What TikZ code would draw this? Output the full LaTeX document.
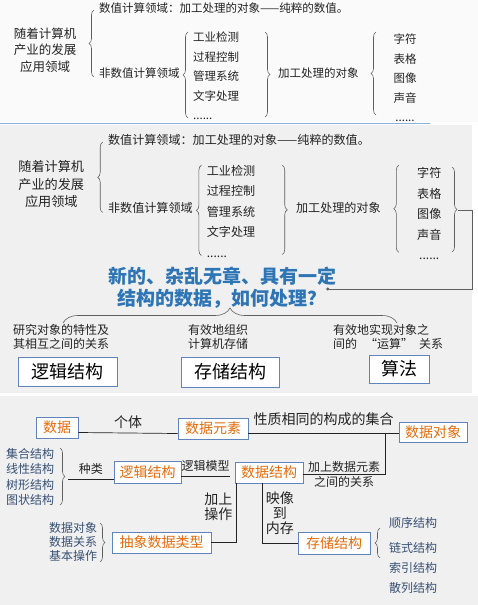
\documentclass[tikz,border=0pt]{standalone}
\usepackage{fontspec}
\newfontfamily\cjk{Noto Sans CJK SC}
\usepackage{tikz}
\usetikzlibrary{positioning,decorations.pathreplacing,arrows.meta}
\usepackage{xcolor}

\definecolor{ink}{RGB}{35,35,35}
\definecolor{topbg}{RGB}{250,250,250}
\definecolor{graybg}{RGB}{240,240,240}
\definecolor{rulecol}{RGB}{141,176,216}
\definecolor{bracegray}{RGB}{95,95,95}
\definecolor{headblue}{RGB}{46,117,182}
\definecolor{boxblue}{RGB}{96,133,190}
\definecolor{orangetxt}{RGB}{228,108,10}
\definecolor{listblue}{RGB}{55,80,115}

\tikzset{
  txt/.style={inner sep=0pt, text=ink, font=\cjk\fontsize{11.5}{19.5}\selectfont},
  ttl/.style={txt, align=center, font=\cjk\fontsize{12.5}{16.5}\selectfont},
  small/.style={txt, align=center, font=\cjk\fontsize{12}{14}\selectfont},
  lbl/.style={txt, align=center, font=\cjk\fontsize{14}{15}\selectfont},
  lbls/.style={txt, align=center, font=\cjk\fontsize{12}{15}\selectfont},
  blist/.style={txt, text=listblue, align=left, font=\cjk\fontsize{12}{15.5}\selectfont},
  brc/.style={decorate, decoration={brace, amplitude=5pt}, draw=bracegray, line width=0.6pt},
  conn/.style={draw=ink, line width=0.7pt},
  bigbox/.style={draw=boxblue, fill=white, line width=0.8pt, inner sep=0pt, text=black,
    font=\cjk\fontsize{18}{18}\selectfont},
  obox/.style={draw=boxblue, fill=white, line width=0.8pt, inner sep=0pt, text=orangetxt,
    font=\cjk\fontsize{14}{14}\selectfont, minimum height=21pt},
}

% field tree, drawn twice
\newcommand{\fieldtree}[1]{%
\node[ttl] (#1title) at (45,50) {随着计算机\\产业的发展\\应用领域};
\draw[brc] (94,77) -- (94,10);
\node[txt, anchor=west] (#1num) at (99,8) {数值计算领域：加工处理的对象——纯粹的数值。};
\node[txt, anchor=west] (#1non) at (99,73) {非数值计算领域};
\draw[brc] (188,118) -- (188,32);
\node[txt, align=left, anchor=west] (#1use) at (193,76) {工业检测\\过程控制\\管理系统\\文字处理\\......};
\draw[brc] (265,32) -- (265,117);
\node[txt, anchor=west] (#1obj) at (278,73) {加工处理的对象};
\draw[brc] (376,115) -- (376,32);
\node[txt, align=center] (#1kind) at (405,78) {字符\\表格\\图像\\声音\\......};
}

\begin{document}
\begin{tikzpicture}[x=1pt,y=-1pt]
\useasboundingbox (0,0) rectangle (478,605);
\fill[white] (0,0) rectangle (478,605);
\fill[topbg] (0,0) rectangle (478,122);
\fill[graybg] (0,125) rectangle (472,393);
\fill[graybg] (0,396) rectangle (478,605);
\draw[rulecol, line width=0.8pt] (0,123) -- (430,123);

% top part
\fieldtree{a}

% second part
\begin{scope}[shift={(4,131.6)}, scale=1.05, transform shape]
\fieldtree{b}
\end{scope}
\draw[brc] (452,167) -- (452,252);
\coordinate (btip) at (458,210);
\node[txt, align=center, text=headblue, font=\cjk\bfseries\fontsize{19}{22}\selectfont] (q) at (222,288)
  {新的、杂乱无章、具有一定\\结构的数据，如何处理？};
\draw[conn, draw=bracegray, -{Circle[length=3pt]}] (btip) -- ++(14,0) |- ([xshift=-10pt, yshift=-1pt]q.east);
\draw[brc, decoration={amplitude=15pt}] (63,323) -- (397,323);
\node[small] (r1) at (61,337) {研究对象的特性及\\其相互之间的关系};
\node[small] (r2) at (218,337) {有效地组织\\计算机存储};
\node[small, align=left, anchor=west] (r3) at (333,337) {有效地实现对象之\\间的\hspace{8pt}“运算”\hspace{6pt}关系};
\node[bigbox, minimum width=99pt, minimum height=29pt] (lb) at (67.5,371.5) {逻辑结构};
\node[bigbox, minimum width=98pt, minimum height=30pt] (sb) at (230,372) {存储结构};
\node[bigbox, minimum width=60pt, minimum height=28pt] (ab) at (399,369) {算法};

% third part
\node[obox, minimum width=42pt] (d1) at (57,427.5) {数据};
\node[obox, minimum width=70pt] (d2) at (213,428.5) {数据元素};
\node[obox, minimum width=68pt, minimum height=20pt] (d3) at (433,432) {数据对象};
\draw[conn] ([yshift=-5pt]d1.east) -- node[lbl, above=4pt] (lgt) {个体} ([yshift=-5pt]d2.west);
\draw[conn] ([yshift=-4.5pt]d2.east) -- node[lbl, above=7pt] (lset) {性质相同的构成的集合} ([yshift=-1pt]d3.west);

\node[blist] (kinds) at (30,477) {集合结构\\线性结构\\树形结构\\图状结构};
\draw[brc] (60,448) -- (60,505);
\node[obox, minimum width=67pt, minimum height=22pt] (ls) at (147.5,472) {逻辑结构};
\node[obox, minimum width=68pt] (ds) at (269,472.5) {数据结构};
\coordinate (ktip) at (68,479);
\draw[conn] (ktip) -- node[lbls, above=4pt] (lkind) {种类} ([yshift=-7pt]ls.west);
\draw[conn] ([yshift=-4pt]ls.east) -- node[lbls, above=4pt] (lmod) {逻辑模型} ([xshift=-5pt, yshift=-3.5pt]ds.west);
\coordinate (j) at (385,433);
\draw[conn] (j) |- ([yshift=-1.5pt]ds.east) node[lbls, pos=0.75] (lrel) {加上数据元素\\之间的关系};

\node[obox, minimum width=99pt] (adt) at (161.5,542.5) {抽象数据类型};
\node[obox, minimum width=72pt, minimum height=22pt] (ss) at (334,543) {存储结构};
\draw[conn] ([xshift=2pt]ds.south west) |- (adt.east) node[lbl, pos=0.2, left=4pt] (lop) {加上\\操作};
\draw[conn] ([xshift=28pt]ds.south west) |- (ss.west) node[lbl, pos=0.25, right=3pt] (lmap) {映像\\到\\内存};

\node[blist, font=\cjk\fontsize{12}{14}\selectfont] (adtl) at (73,542) {数据对象\\数据关系\\基本操作};
\draw[brc] (100,523) -- (100,562);
\draw[brc] (380,558) -- (380,528);
\node[blist, anchor=west] (st1) at (389,523) {顺序结构};
\node[blist, anchor=west] (st2) at (389,548) {链式结构};
\node[blist, anchor=west] (st3) at (389,568) {索引结构};
\node[blist, anchor=west] (st4) at (389,588) {散列结构};
\end{tikzpicture}
\end{document}
